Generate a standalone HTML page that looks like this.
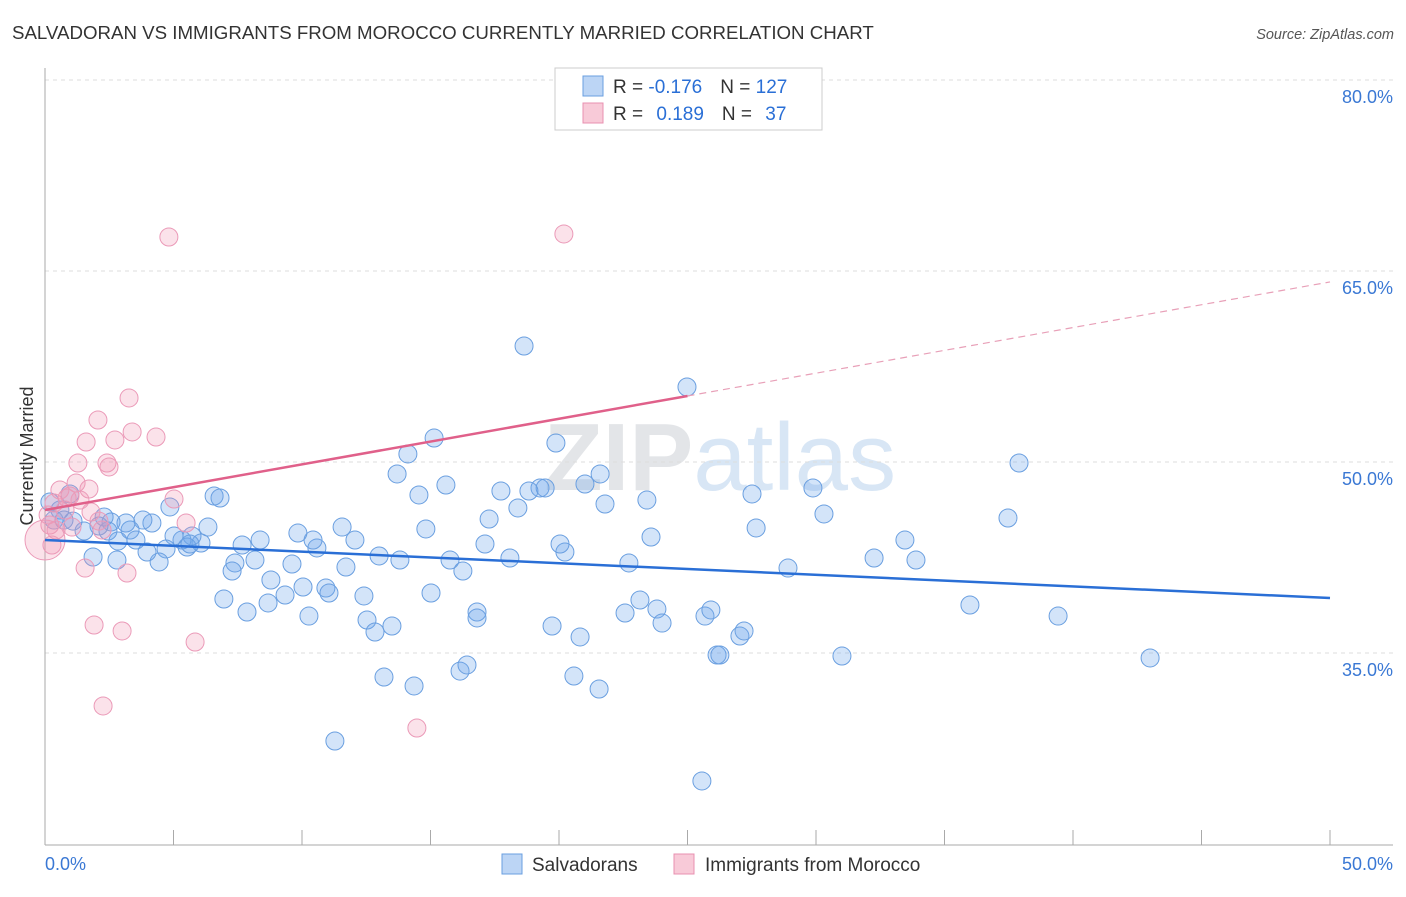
<!DOCTYPE html>
<html><head><meta charset="utf-8"><style>
body{margin:0;background:#fff;font-family:"Liberation Sans",sans-serif}
svg text{font-family:"Liberation Sans",sans-serif}
</style></head><body>
<svg id="chart" width="1406" height="892" xmlns="http://www.w3.org/2000/svg">
<text x="12" y="39" font-size="18.7" fill="#333">SALVADORAN VS IMMIGRANTS FROM MOROCCO CURRENTLY MARRIED CORRELATION CHART</text>
<text x="1394" y="39" font-size="14.5" fill="#555" text-anchor="end" font-style="italic">Source: ZipAtlas.com</text>
<text x="720" y="490" font-size="96" fill="#e8ebef" text-anchor="middle" font-family="Liberation Serif"><tspan font-weight="bold" fill="#e3e5e8">ZIP</tspan><tspan font-family="Liberation Sans" fill="#d8e6f5">atlas</tspan></text>
<g id="grid"></g>
<g id="axes"></g>
<g id="points"></g>
<g id="trends"></g>
<text transform="translate(33,456) rotate(-90)" font-size="18" fill="#333" text-anchor="middle">Currently Married</text>
<g>
<rect x="555" y="68" width="267" height="62" fill="#fff" stroke="#ccc"/>
<rect x="583" y="76" width="20" height="20" fill="#bcd5f5" stroke="#6a9fe0"/>
<rect x="583" y="103" width="20" height="20" fill="#f8cad8" stroke="#e890b0"/>
<text x="613" y="93" font-size="19" fill="#333">R = <tspan fill="#2a6fd6">-0.176</tspan><tspan dx="18">N = </tspan><tspan fill="#2a6fd6">127</tspan></text>
<text x="613" y="120" font-size="19" fill="#333">R = <tspan dx="8" fill="#2a6fd6">0.189</tspan><tspan dx="18">N = </tspan><tspan dx="8" fill="#2a6fd6">37</tspan></text>
</g>
<g>
<rect x="502" y="854" width="20" height="20" fill="#bcd5f5" stroke="#6a9fe0"/>
<text x="532" y="871" font-size="19" fill="#333">Salvadorans</text>
<rect x="674" y="854" width="20" height="20" fill="#f8cad8" stroke="#e890b0"/>
<text x="705" y="871" font-size="19" fill="#333">Immigrants from Morocco</text>
</g>
</svg>
<script>
const yTicks=[80,65,50,35];
const xTickLabels=["0.0%","50.0%"];
const blueX=[18.64,24.98,15.14,19.88,14.12,13.70,21.60,21.01,19.26,19.46,17.74,18.83,15.60,14.55,6.58,6.81,21.79,23.42,27.51,29.88,37.90,18.40,17.28,30.31,37.47,27.67,14.82,11.56,12.06,23.58,33.46,32.26,33.89,28.91,22.72,20.23,20.04,18.09,17.12,15.76,16.26,13.81,13.00,11.71,10.58,10.43,9.84,9.61,8.17,7.39,7.28,8.37,7.67,6.34,6.07,5.72,5.33,5.02,5.53,4.71,4.44,3.97,4.16,3.81,3.31,3.15,2.57,2.45,2.30,1.87,2.80,2.84,3.54,2.10,1.52,1.09,0.58,0.35,0.74,0.19,0.97,8.79,6.96,7.86,8.68,9.34,10.04,10.93,11.05,10.27,12.41,12.53,12.84,13.50,15.02,16.81,16.81,19.73,20.82,22.57,23.15,23.81,24.01,25.68,25.91,27.04,27.20,26.15,26.26,31.01,35.99,39.42,43.00,16.15,16.42,13.19,14.36,20.58,21.56,11.28,25.56,4.86,5.64];
const blueY=[59.11,55.89,51.88,51.49,50.63,49.06,49.06,48.27,47.96,47.96,47.72,47.72,48.19,47.41,47.33,47.17,46.70,47.01,47.49,47.96,49.92,46.39,45.52,45.92,45.60,44.82,44.74,44.89,43.87,44.11,43.87,42.46,42.30,41.67,42.07,42.93,43.56,42.46,43.56,42.30,41.44,42.30,42.62,41.75,43.25,43.87,44.42,41.99,42.30,42.07,41.44,43.87,43.48,44.89,43.64,44.19,43.87,44.19,43.32,43.17,42.15,42.93,45.21,45.44,44.66,45.21,45.29,44.58,45.68,42.54,42.30,43.79,43.87,44.97,44.58,45.36,46.23,45.44,45.44,46.86,47.49,40.73,39.24,38.22,38.93,39.55,40.18,40.10,39.71,37.90,39.48,37.59,36.65,37.12,39.71,38.22,37.75,37.12,36.26,38.14,39.16,38.45,37.35,37.90,38.38,36.33,36.73,34.84,34.84,34.76,38.77,37.90,34.61,33.58,34.06,33.11,32.41,33.19,32.17,28.09,24.95,46.47,43.56];
const pinkX=[4.82,20.19,3.27,2.06,3.39,4.32,1.60,2.72,1.28,2.41,2.49,1.21,1.71,0.97,0.86,0.35,1.79,5.02,5.49,2.10,2.22,0.19,0,1.56,3.19,1.91,3.00,5.84,2.26,14.47,0.58,0.12,0.43,1.36,0.78,0.27,1.05];
const pinkY=[67.67,67.91,55.03,53.30,52.36,51.96,51.57,51.73,49.92,49.92,49.61,48.35,47.88,47.33,47.17,46.78,46.07,47.09,45.21,45.36,44.66,45.05,43.87,41.67,41.28,37.20,36.73,35.86,30.84,29.11,47.80,45.84,44.66,47.01,46.23,43.48,44.89];
const blueTrend=[43.87,39.32];
const pinkTrend=[46.23,64.14];
const NS="http://www.w3.org/2000/svg";
const X=v=>45+v*25.7, Y=v=>80+(80-v)*12.733;
function mk(tag,attrs,parent){const e=document.createElementNS(NS,tag);for(const k in attrs)e.setAttribute(k,attrs[k]);document.getElementById(parent).appendChild(e);return e;}
yTicks.forEach(t=>{
 const l=mk('line',{x1:45,x2:1393,y1:Y(t),y2:Y(t),stroke:'#ddd','stroke-dasharray':'4,4'},'grid');
 
 
 const tx=mk('text',{x:1393,y:Y(t)+23,'font-size':18,fill:'#3a78d4','text-anchor':'end'},'grid');
 tx.textContent=t.toFixed(1)+'%';
 
 
});
let ax=mk('line',{x1:45,x2:45,y1:68,y2:845,stroke:'#aaa'},'axes');


ax=mk('line',{x1:45,x2:1393,y1:845,y2:845,stroke:'#aaa'},'axes');


for(let i=0;i<=10;i++){const t=mk('line',{x1:X(i*5),x2:X(i*5),y1:830,y2:845,stroke:'#aaa'},'axes');
 
 }
[[0,'start'],[50,'end']].forEach((p,i)=>{const t=mk('text',{x:p[0]==0?45:1393,y:870,'font-size':18,fill:'#3a78d4','text-anchor':p[1]},'axes');t.textContent=xTickLabels[i];
 
 });
blueX.forEach((x,i)=>{const c=mk('circle',{cx:X(x),cy:Y(blueY[i]),r:9,fill:'rgba(110,165,235,0.3)',stroke:'#6a9fe0','stroke-width':1},'points');
 
 });
pinkX.forEach((x,i)=>{const c=mk('circle',{cx:X(x),cy:Y(pinkY[i]),r:x===0?20:9,fill:'rgba(240,150,180,0.28)',stroke:'#eb9ab8','stroke-width':1},'points');
 
 });
let l=mk('line',{x1:X(0),y1:Y(blueTrend[0]),x2:X(50),y2:Y(blueTrend[1]),stroke:'#2a6fd6','stroke-width':2.5},'trends');


const pm=(pinkTrend[0]+pinkTrend[1])/2;
l=mk('line',{x1:X(0),y1:Y(pinkTrend[0]),x2:X(25),y2:Y(pm),stroke:'#e0608a','stroke-width':2.5},'trends');


l=mk('line',{x1:X(25),y1:Y(pm),x2:X(50),y2:Y(pinkTrend[1]),stroke:'#e8a0b8','stroke-width':1.2,'stroke-dasharray':'7,5'},'trends');


</script>
</body></html>
